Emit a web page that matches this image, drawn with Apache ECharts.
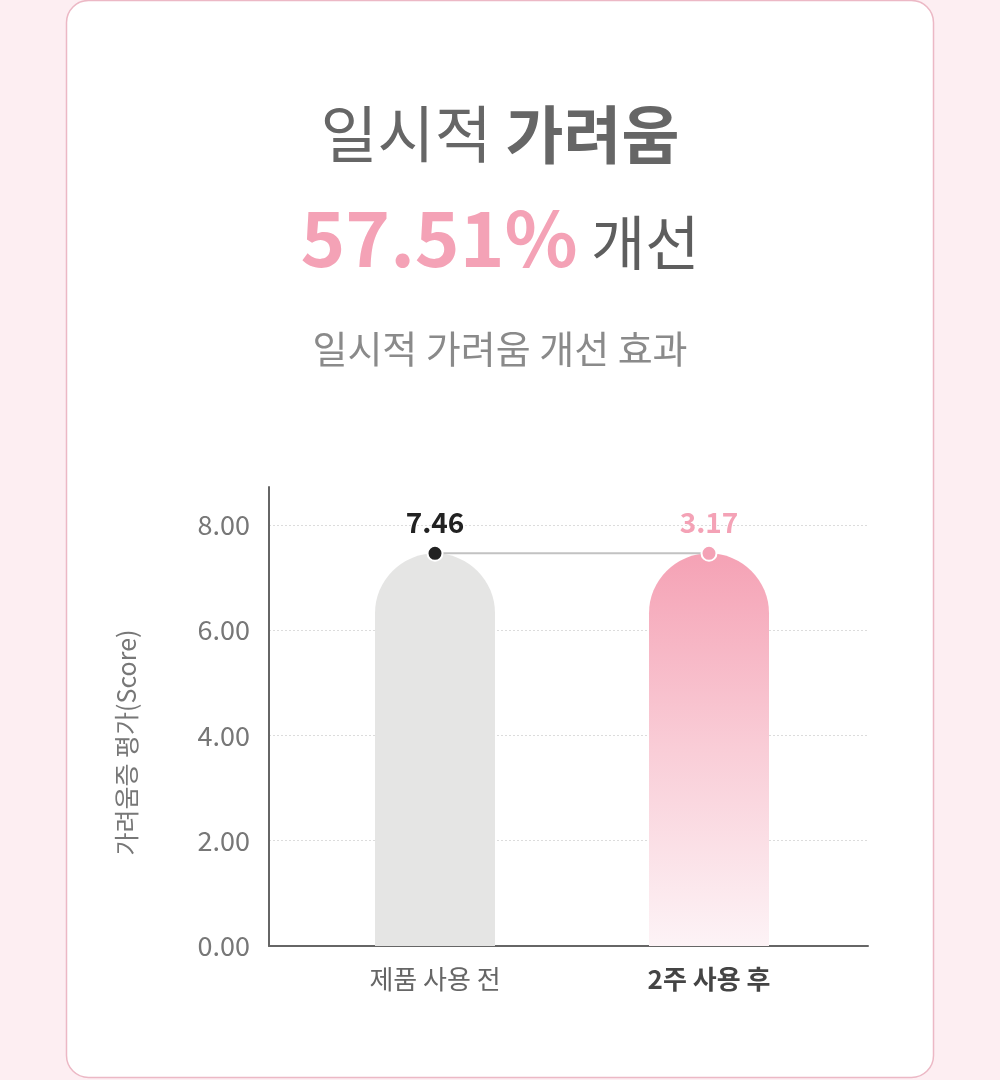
<!DOCTYPE html>
<html>
<head>
<meta charset="utf-8">
<script src="https://cdn.jsdelivr.net/npm/echarts@6/dist/echarts.min.js"></script>
<style>
html,body{margin:0;padding:0;background:#fdeef2;}
#chart{width:1000px;height:1080px;}
</style>
</head>
<body>
<div id="chart"></div>
<script>
const categories = ['제품 사용 전', '2주 사용 후'];
const barValues = [7.46, 7.46];     // bar heights as drawn in the picture
const scoreLabels = [7.46, 3.17];   // printed score labels
const yMin = 0, yMax = 8.72, yInterval = 2;
const titleLine1a = '일시적 ';
const titleLine1b = '가려움';
const titleLine2a = '57.51%';
const titleLine2b = ' 개선';
const subtitle = '일시적 가려움 개선 효과';
const yAxisName = '가려움증 평가(Score)';

const FONT = 'Noto Sans CJK KR';
const chart = echarts.init(document.getElementById('chart'));

const option = {
  backgroundColor: '#fdeef2',
  textStyle: { fontFamily: FONT },
  graphic: [{
    type: 'rect', z: -10,
    shape: { x: 66.5, y: 0.5, width: 867, height: 1077, r: 22 },
    style: { fill: '#ffffff', stroke: '#ecb8c5', lineWidth: 1.5 }
  }],
  title: [
    {
      left: 'center', top: 98,
      text: '{a|' + titleLine1a + '}{b|' + titleLine1b + '}',
      textStyle: { rich: {
        a: { fontFamily: FONT, fontSize: 62, color: '#666666', fontWeight: 'normal' },
        b: { fontFamily: FONT, fontSize: 63, color: '#666666', fontWeight: 'bold' }
      } }
    },
    {
      left: 'center', top: 195,
      text: '{a|' + titleLine2a + '}{b|' + titleLine2b + '}',
      textStyle: { rich: {
        a: { fontFamily: FONT, fontSize: 76, color: '#f4a2b6', fontWeight: 'bold', verticalAlign: 'bottom' },
        b: { fontFamily: FONT, fontSize: 59, color: '#5e5e5e', fontWeight: 'normal', verticalAlign: 'bottom', padding: [0, 0, 4, 0] }
      } }
    },
    {
      left: 'center', top: 325,
      text: subtitle,
      textStyle: { fontFamily: FONT, fontSize: 38, color: '#8a8a8a', fontWeight: 'normal' }
    }
  ],
  grid: [
    { left: 269, right: 132, top: 487, bottom: 134 },
    { left: 298, right: 154, top: 487, bottom: 134 }
  ],
  xAxis: [
    {
      gridIndex: 0, type: 'category', data: categories,
      axisLine: { lineStyle: { color: '#666', width: 2 } },
      axisTick: { show: false }, axisLabel: { show: false }
    },
    {
      gridIndex: 1, type: 'category',
      data: [
        { value: categories[0], textStyle: { color: '#666', fontWeight: 'normal' } },
        { value: categories[1], textStyle: { color: '#444', fontWeight: 'bold' } }
      ],
      axisLine: { show: false }, axisTick: { show: false },
      axisLabel: { fontFamily: FONT, fontSize: 26, margin: 20 }
    }
  ],
  yAxis: [
    {
      gridIndex: 0, type: 'value', min: yMin, max: yMax, interval: yInterval,
      name: yAxisName, nameLocation: 'middle', nameGap: 130,
      nameTextStyle: { fontFamily: FONT, fontSize: 25, color: '#777', padding: [0, 52, 0, 0] },
      axisLine: { show: true, lineStyle: { color: '#666', width: 2 } },
      axisTick: { show: false },
      axisLabel: {
        fontFamily: FONT, fontSize: 27, color: '#777', margin: 19,
        showMaxLabel: false,
        formatter: v => (Math.abs(v % yInterval) < 1e-9 ? v.toFixed(2) : '')
      },
      splitLine: { show: true, showMinLine: false, showMaxLine: false,
        lineStyle: { color: '#dcdcdc', type: [2, 2], width: 1 } }
    },
    {
      gridIndex: 1, type: 'value', min: yMin, max: yMax, interval: yInterval,
      show: false, splitLine: { show: false }
    }
  ],
  series: [
    {
      type: 'bar', xAxisIndex: 1, yAxisIndex: 1, barWidth: 120,
      data: barValues.map((v, i) => ({
        value: v,
        itemStyle: i === 0
          ? { color: '#e5e5e4', borderRadius: [60, 60, 0, 0] }
          : { color: new echarts.graphic.LinearGradient(0, 0, 0, 1, [
                { offset: 0, color: '#f5a2b5' },
                { offset: 0.5, color: '#f9cdd7' },
                { offset: 1, color: '#fdf3f6' }
              ]), borderRadius: [60, 60, 0, 0] }
      })),
      silent: true
    },
    {
      type: 'line', xAxisIndex: 1, yAxisIndex: 1, z: 5,
      symbol: 'circle', symbolSize: 15,
      lineStyle: { color: '#c2c2c2', width: 2 },
      data: barValues.map((v, i) => ({
        value: v,
        itemStyle: { color: i === 0 ? '#222222' : '#f4a2b6', borderColor: '#ffffff', borderWidth: 2 },
        label: { color: i === 0 ? '#222222' : '#f4a2b6' }
      })),
      label: {
        show: true, position: 'top', distance: 8,
        fontFamily: FONT, fontSize: 28, fontWeight: 'bold',
        formatter: p => scoreLabels[p.dataIndex].toFixed(2)
      }
    }
  ]
};
chart.setOption(option);
</script>
</body>
</html>
